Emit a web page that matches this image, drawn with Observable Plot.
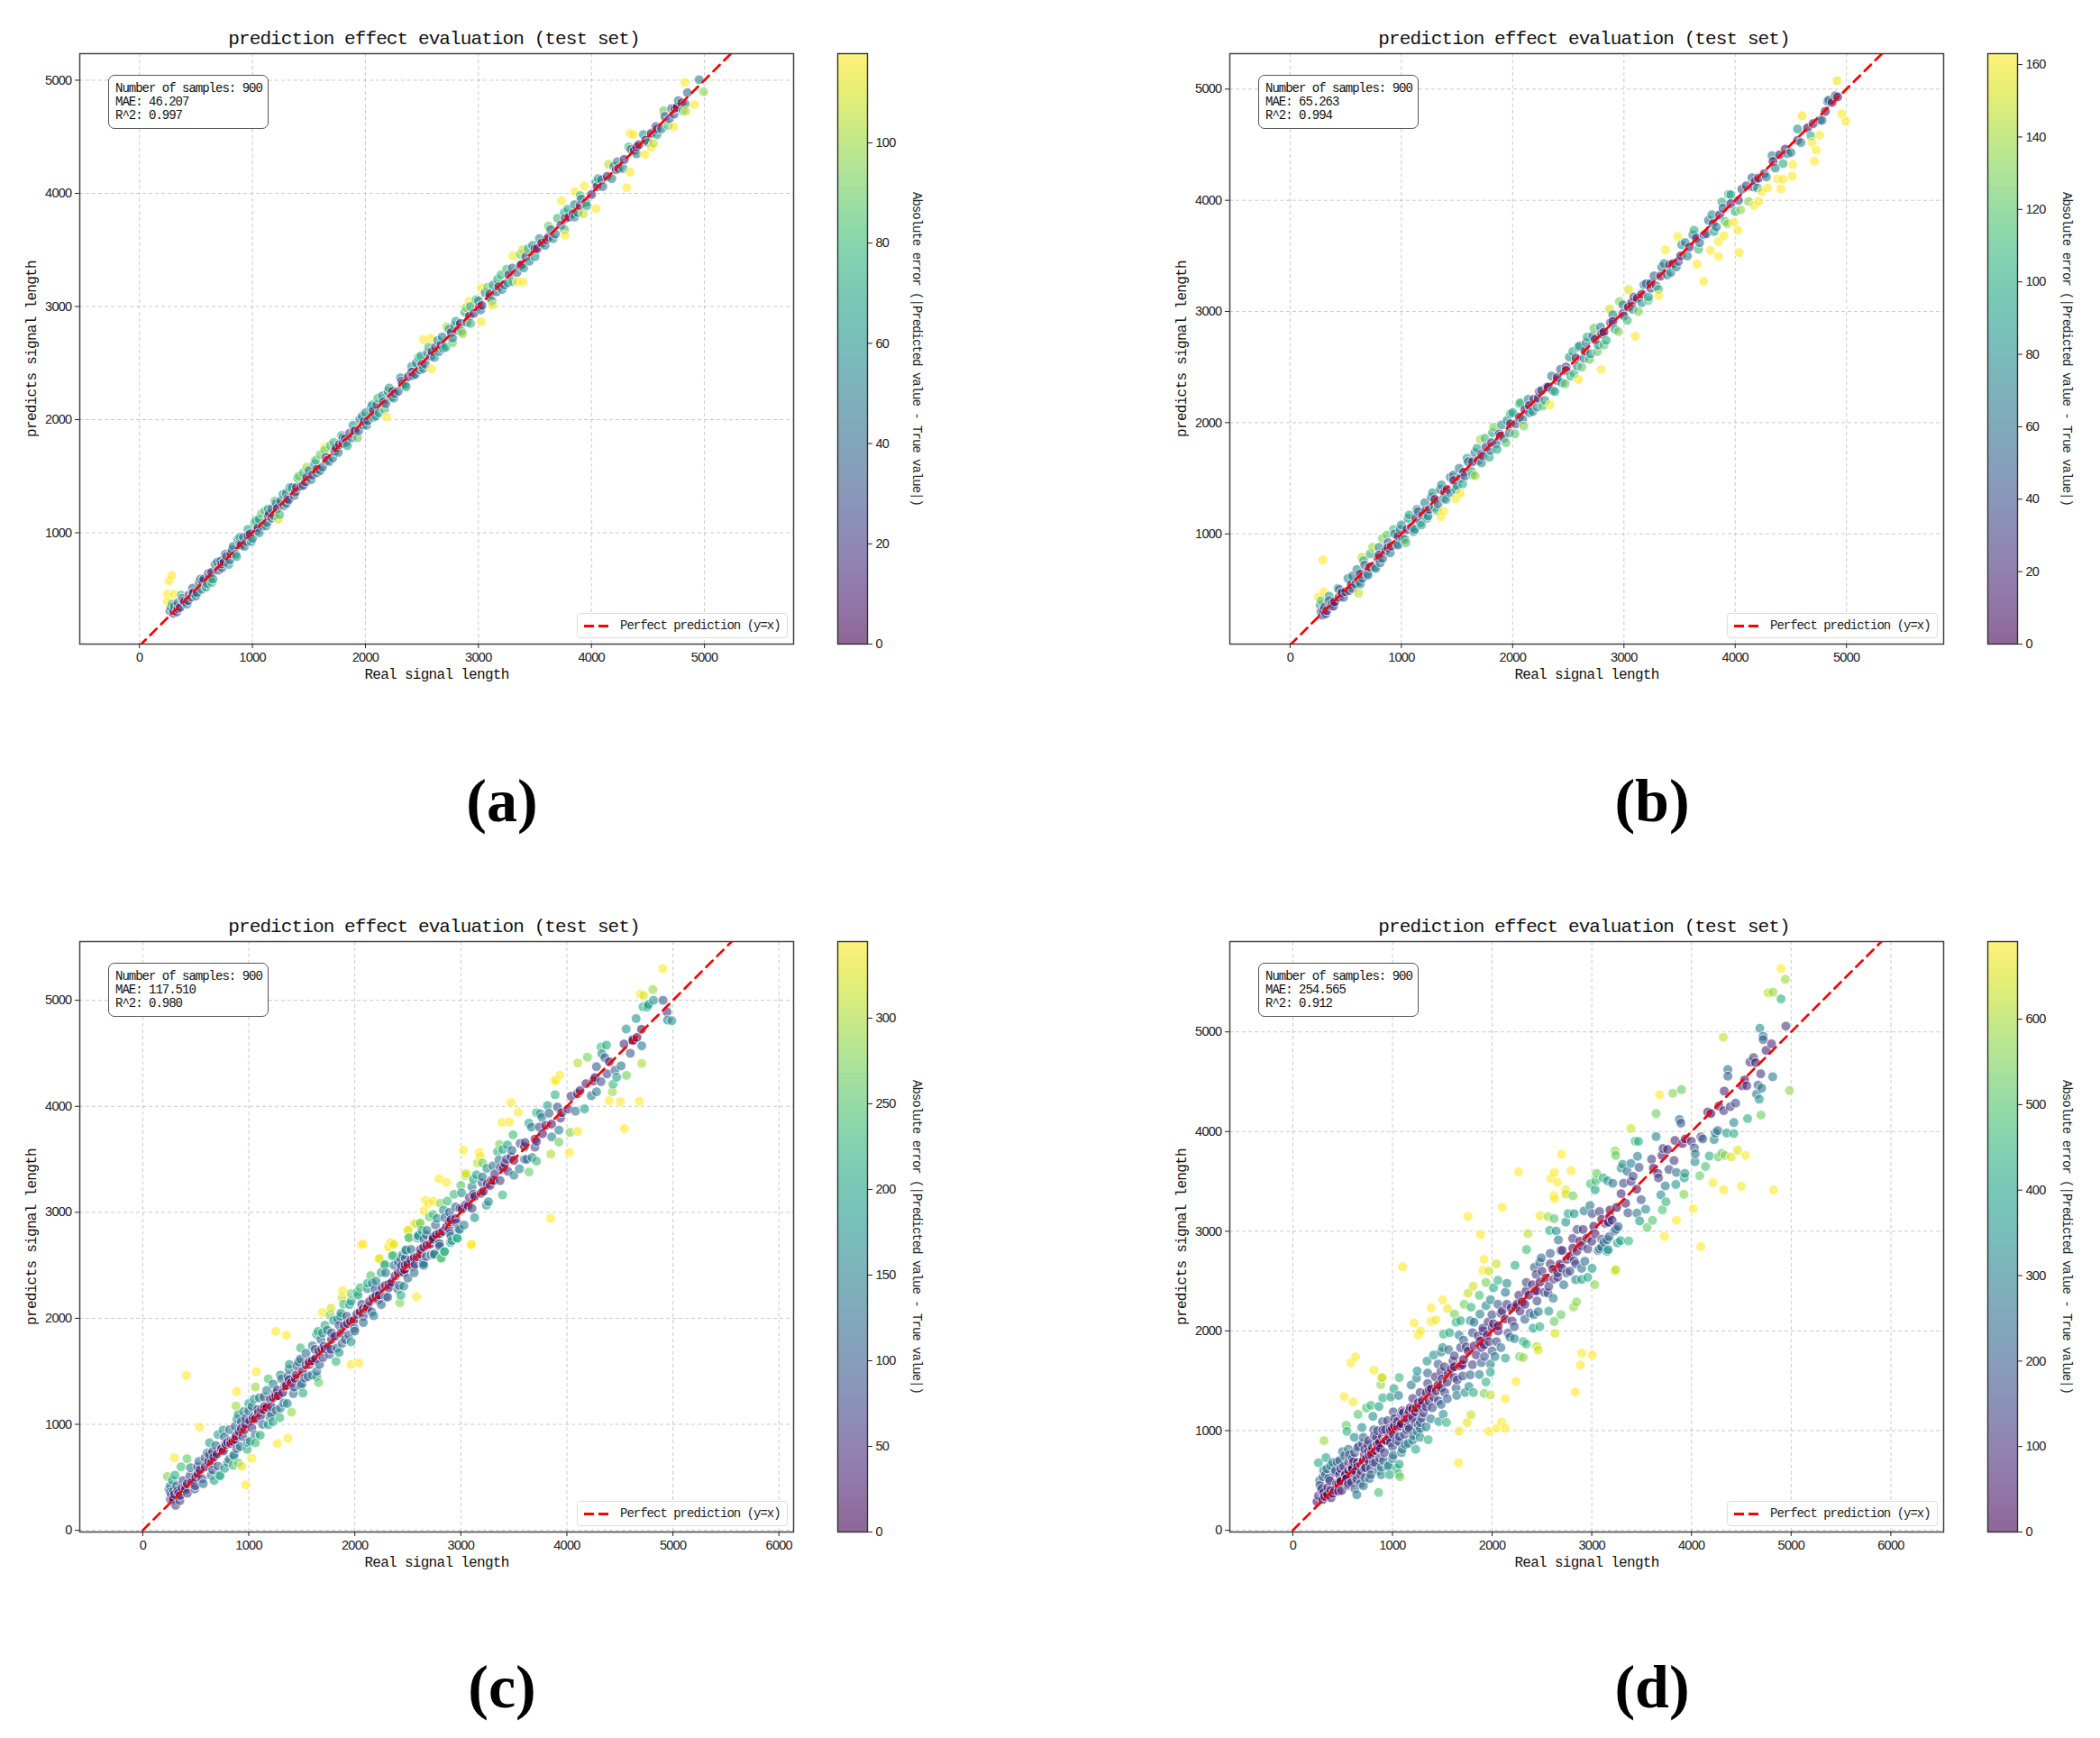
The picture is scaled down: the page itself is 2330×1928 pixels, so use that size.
<!DOCTYPE html>
<html><head><meta charset="utf-8">
<script src="https://cdn.jsdelivr.net/npm/d3@7"></script>
<script src="https://cdn.jsdelivr.net/npm/@observablehq/plot@0.6"></script>
<style>
html,body{margin:0;padding:0;background:#fff}
#page{position:relative;width:2330px;height:1928px;overflow:hidden}
.abs{position:absolute}
.abs svg{display:block;overflow:visible}
.stats{position:absolute;width:176px;height:58px;border:1.6px solid #555;border-radius:7px;background:#fff;font:14px/15px "Liberation Mono",monospace;letter-spacing:-1px;color:#111;padding:0;box-sizing:content-box}
.stats div{margin-left:7px;white-space:pre}
.stats div:first-child{margin-top:7px}
.legend{position:absolute;width:232px;height:26px;border:1.2px solid #ddd;border-radius:4px;background:rgba(255,255,255,.8);font:14px/26px "Liberation Mono",monospace;letter-spacing:-1px;color:#222;white-space:pre}
.legend i{position:absolute;left:7px;top:12px;width:27px;height:3px;background:linear-gradient(90deg,#f00 0 11px,transparent 11px 16px,#f00 16px 27px)}
.legend span{position:absolute;left:47px;top:0}
.letter{position:absolute;font:bold 68px "Liberation Serif",serif;color:#000;transform:translate(-50%,-50%);white-space:pre}
</style></head><body><div id="page"></div>
<script>
const titleText="prediction effect evaluation (test set)";
const xLabel="Real signal length";
const yLabel="predicts signal length";
const barLabel="Absolute error (|Predicted value - True value|)";
const legendText="Perfect prediction (y=x)";
const samplesText="Number of samples: 900";

const lettersList=["(a)","(b)","(c)","(d)"];
const maeList=["46.207","65.263","117.510","254.565"];
const r2List=["0.997","0.994","0.980","0.912"];

const xDomains=[[-528,5789],[-542,5873],[-594,6138],[-632,6530]];
const yDomains=[[16,5235],[9,5319],[-16,5554],[-17,5906]];
const xTicks=[[0,1000,2000,3000,4000,5000],[0,1000,2000,3000,4000,5000],[0,1000,2000,3000,4000,5000,6000],[0,1000,2000,3000,4000,5000,6000]];
const yTicks=[[1000,2000,3000,4000,5000],[1000,2000,3000,4000,5000],[0,1000,2000,3000,4000,5000],[0,1000,2000,3000,4000,5000]];
const errMax=[117.8,163,344.7,690.8];
const errTicks=[[0,20,40,60,80,100],[0,20,40,60,80,100,120,140,160],[0,50,100,150,200,250,300],[0,100,200,300,400,500,600]];

const pointsAExtra=[[290,370],[340,330],[370,450],[430,400],[470,510],[500,440],[540,590],[590,520],[610,640],[640,560],[690,740],[730,690],[760,810],[790,720],[830,880],[860,790],[890,960],[930,880],[960,1030],[990,920],[1030,1110],[1060,1000],[1080,1170],[1120,1060],[1140,1210],[1170,1130],[1200,1280],[1240,1160],[1270,1340],[1300,1260],[1330,1400],[1370,1330],[1410,1500],[1450,1420],[1480,1580],[1520,1470],[1560,1640],[1600,1550],[1640,1760],[1680,1630],[1720,1800],[1760,1710],[1790,1860],[1840,1770],[1890,1950],[1940,1900],[1970,2030],[2010,1950],[2060,2130],[2090,2030],[2110,2190],[2170,2090],[2210,2280],[2250,2190],[2310,2370],[2360,2290],[2410,2470],[2440,2400],[2470,2550],[2510,2450],[2560,2640],[2610,2550],[2640,2700],[2690,2630],[2720,2820],[2770,2680],[2800,2870],[2860,2760],[2890,2990],[2930,2850],[2980,3060],[3020,2970],[3080,3170],[3120,3050],[3170,3240],[3210,3150],[3250,3330],[3300,3220],[3370,3460],[3400,3340],[3440,3510],[3500,3440],[3540,3600],[3590,3540],[3620,3710],[3660,3600],[3700,3780],[3760,3680],[3790,3860],[3850,3790],[3900,3980],[3960,3890],[4060,4130],[4100,4060],[4180,4130],[4230,4280],[4280,4220],[4330,4410],[4400,4350],[4460,4520],[4500,4450],[4580,4520],[4640,4730],[4680,4600],[4730,4700],[4770,4820],[4810,4730]];

const pointsA=[[285,623],[261,574],[249,457],[308,457],[249,393],[2515,2709],[2580,2719],[2586,2449],[2189,2023],[3025,2865],[2918,3047],[3025,3164],[3126,3012],[3304,3448],[3393,3502],[3345,3218],[3393,3218],[3766,3629],[3737,3933],[3855,4016],[3938,4065],[3837,3820],[4039,3864],[3927,3820],[4342,4530],[4371,4520],[4312,4050],[4342,4188],[4152,4256],[4994,4898],[4953,5005],[4828,4980],[4911,4784],[4834,4726],[4727,4589],[4549,4442],[4472,4344],[4531,4407],
[280,340],[270,310],[300,290],[310,350],[330,300],[340,380],[360,340],[380,420],[400,390],[420,370],[440,450],[460,430],[480,470],[510,470],[530,560],[550,500],[570,590],[600,550],[620,600],[650,590],[670,720],[700,670],[720,750],[750,740],[770,790],[800,760],[820,850],[850,810],[870,940],[900,890],[920,960],[950,920],[980,990],[1000,950],[1020,1090],[1040,1020],[1060,1120],[1090,1060],[1110,1190],[1130,1090],[1150,1170],[1170,1210],[1190,1150],[1210,1260],[1230,1120],[1250,1280],[1280,1240],[1300,1350],[1320,1290],[1350,1400],[1380,1360],[1400,1480],[1430,1410],[1450,1530],[1470,1450],[1500,1550],[1530,1510],[1550,1610],[1570,1530],[1600,1690],[1620,1580],[1640,1730],[1660,1640],[1690,1770],[1710,1660],[1740,1750],[1770,1780],[1800,1840],[1800,1790],[1830,1800],[1860,1880],[1880,1840],[1910,1900],[1930,1840],[1950,2000],[1980,1950],[2000,2060],[2020,1990],[2050,2110],[2070,2020],[2100,2130],[2120,2060],[2150,2210],[2180,2140],[2200,2250],[2230,2200],[2260,2230],[2290,2250],[2320,2340],[2350,2310],[2380,2380],[2420,2390],[2450,2500],[2480,2440],[2490,2560],[2530,2490],[2550,2590],[2580,2560],[2620,2640],[2650,2600],[2680,2730],[2710,2640],[2740,2800],[2770,2720],[2790,2830],[2820,2790],[2850,2780],[2880,2950],[2900,2860],[2930,3000],[2960,2940],[3000,3050],[3030,3010],[3060,3120],[3100,3080],[3130,3190],[3160,3130],[3200,3280],[3230,3190],[3260,3210],[3300,3340],[3340,3300],[3380,3370],[3420,3440],[3450,3400],[3480,3540],[3520,3510],[3560,3560],[3600,3590],[3640,3680],[3680,3640],[3730,3720],[3760,3830],[3800,3790],[3850,3900],[3880,3830],[3910,3950],[3950,3920],[4000,3990],[4040,4100],[4090,4120],[4140,4150],[4200,4240],[4240,4220],[4290,4300],[4350,4390],[4380,4380],[4420,4430],[4480,4470],[4530,4530],[4570,4590],[4620,4570],[4650,4680],[4690,4660],[4710,4750],[4760,4760],[4800,4800],[4830,4790],[4850,4890],
[305,310],[390,400],[470,465],[560,570],[640,650],[730,725],[810,815],[890,900],[960,975],[1050,1045],[1140,1150],[1220,1215],[1310,1300],[1390,1400],[1480,1490],[1570,1560],[1650,1665],[1730,1720],[1820,1830],[1900,1905],[1990,1985],[2070,2080],[2160,2155],[2240,2250],[2330,2320],[2410,2420],[2500,2490],[2590,2600],[2670,2660],[2760,2770],[2840,2850],[2920,2915],[3010,3000],[3100,3110],[3180,3175],[3270,3280],[3370,3360],[3500,3510],[3620,3610],[3770,3780],[3900,3890],[4050,4060],[4220,4210],[4400,4410],[4580,4570],[4740,4750]];

const pointsBExtra=[[280,400],[320,280],[350,440],[390,350],[440,500],[480,430],[520,600],[560,510],[600,680],[630,550],[660,760],[700,630],[720,820],[770,690],[800,880],[830,780],[870,990],[900,830],[930,1040],[970,900],[1000,1080],[1030,950],[1070,1170],[1110,1020],[1140,1220],[1180,1080],[1210,1280],[1240,1160],[1280,1370],[1320,1210],[1360,1440],[1400,1310],[1440,1510],[1490,1400],[1520,1590],[1550,1450],[1590,1680],[1640,1530],[1680,1770],[1720,1640],[1750,1860],[1790,1690],[1820,1910],[1860,1760],[1900,1980],[1940,1820],[1980,2080],[2020,1900],[2070,2180],[2100,1970],[2140,2210],[2180,2100],[2240,2280],[2270,2150],[2350,2420],[2380,2280],[2430,2480],[2470,2350],[2510,2590],[2550,2440],[2590,2680],[2620,2500],[2660,2720],[2690,2570],[2720,2780],[2760,2640],[2790,2860],[2820,2700],[2900,2970],[2950,2820],[2990,3060],[3030,2920],[3090,3130],[3130,3000],[3180,3240],[3220,3100],[3270,3320],[3310,3200],[3360,3430],[3420,3350],[3470,3400],[3520,3600],[3570,3500],[3620,3690],[3670,3560],[3740,3700],[3790,3870],[3830,3760],[3890,3930],[3930,3790],[4000,3900],[4060,4100],[4120,3990],[4200,4110],[4280,4210],[4360,4290],[4430,4330],[4500,4430],[4590,4520],[4680,4580],[4760,4720]];

const pointsB=[[295,766],[253,432],[301,477],[614,467],[645,791],[1355,1154],[1380,1204],[1488,1314],[1530,1364],[1663,1523],[2337,2161],[2795,2479],[2590,2390],[3102,2778],[3042,3197],[2873,3022],[3373,3555],[3482,3675],[3657,3426],[3717,3272],[3777,3550],[3849,3496],[3849,3630],[3898,3680],[4036,3530],[4024,3730],[3988,3804],[4048,3914],[3940,4053],[3880,3984],[4410,4103],[4169,3954],[4241,4079],[4380,4193],[4512,4218],[4518,4322],[4711,4352],[4729,4452],[4759,4586],[4602,4761],[4916,5075],[4958,4776],[4994,4711],[4560,4641],[4331,4402],[4151,4203],[3313,3142],[3220,3130],[4430,4190],[4290,4110],[4210,3990],[4690,4520],[4780,4720],[4830,4890],[4900,4940],[4870,4880],
[270,360],[280,300],[290,270],[310,340],[330,310],[350,400],[370,350],[400,390],[430,510],[440,430],[470,470],[500,480],[530,490],[560,620],[590,550],[620,570],[650,600],[670,720],[690,640],[720,700],[740,880],[760,700],[790,780],[810,740],[830,960],[860,850],[880,920],[910,890],[940,1000],[960,910],[990,1040],[1010,960],[1040,920],[1060,1140],[1090,1060],[1120,1040],[1150,1200],[1170,1100],[1190,1170],[1230,1140],[1250,1220],[1270,1330],[1300,1240],[1330,1270],[1350,1400],[1380,1320],[1410,1400],[1440,1370],[1470,1530],[1500,1430],[1530,1500],[1570,1520],[1600,1650],[1630,1560],[1660,1730],[1690,1660],[1710,1850],[1730,1700],[1760,1780],[1800,1750],[1830,1960],[1850,1810],[1880,1900],[1920,1860],[1950,2020],[1970,1910],[2000,2090],[2030,1990],[2060,2170],[2090,2030],[2110,2120],[2150,2090],[2190,2210],[2220,2140],[2260,2290],[2290,2200],[2320,2320],[2360,2290],[2400,2380],[2440,2360],[2480,2500],[2520,2420],[2540,2640],[2580,2510],[2600,2690],[2640,2580],[2670,2770],[2700,2620],[2730,2850],[2770,2700],[2800,2800],[2840,2740],[2880,2900],[2920,2840],[2960,3090],[3000,2960],[3040,3040],[3080,3020],[3120,3120],[3160,3080],[3200,3250],[3240,3210],[3290,3230],[3340,3400],[3390,3330],[3440,3430],[3490,3450],[3550,3620],[3590,3580],[3630,3730],[3680,3620],[3720,3690],[3760,3820],[3810,3720],[3860,3870],[3910,3810],[3960,4050],[4030,4000],[4100,4130],[4160,4120],[4210,4200],[4260,4240],[4340,4350],[4400,4410],[4470,4420],[4560,4540],[4650,4650],[4810,4800],[4840,4900],
[300,310],[380,375],[460,470],[550,545],[630,640],[710,705],[800,810],[880,875],[970,980],[1050,1040],[1130,1140],[1220,1210],[1300,1310],[1390,1380],[1470,1480],[1560,1555],[1640,1650],[1720,1715],[1810,1820],[1890,1880],[1980,1990],[2060,2050],[2150,2155],[2230,2220],[2310,2320],[2400,2405],[2480,2470],[2570,2580],[2650,2645],[2740,2750],[2820,2815],[2900,2910],[2990,2980],[3070,3080],[3160,3155],[3240,3250],[3330,3320],[3410,3420],[3510,3500],[3650,3660],[3800,3790],[3960,3970],[4180,4170],[4450,4460],[4700,4690],[4920,4930]];

const pointsCExtra=[[260,420],[290,300],[320,420],[350,280],[380,470],[420,350],[450,590],[490,390],[530,650],[570,440],[610,730],[660,570],[690,800],[720,520],[770,880],[800,640],[820,950],[860,710],[890,1050],[920,790],[950,1120],[990,830],[1030,1170],[1060,900],[1100,1250],[1130,1000],[1170,1320],[1200,1070],[1230,1380],[1260,1130],[1310,1430],[1330,1200],[1380,1520],[1420,1290],[1470,1590],[1500,1380],[1540,1670],[1560,1450],[1600,1740],[1640,1500],[1680,1800],[1700,1630],[1740,1890],[1760,1660],[1800,1980],[1830,1720],[1870,2050],[1910,1800],[1950,2130],[2000,1880],[2030,2220],[2080,1960],[2120,2280],[2160,2060],[2200,2350],[2250,2130],[2290,2430],[2310,2200],[2370,2500],[2420,2310],[2450,2600],[2500,2380],[2530,2650],[2560,2430],[2600,2780],[2650,2500],[2680,2830],[2720,2600],[2760,2880],[2800,2680],[2850,2950],[2900,2800],[2950,3050],[3030,2880],[3080,3140],[3130,2950],[3200,3280],[3260,3100],[3320,3360],[3370,3300],[3430,3500],[3500,3350],[3560,3650],[3620,3500],
[260,360],[270,340],[300,340],[330,370],[370,400],[420,440],[500,500],[540,570],[620,650],[670,690],[740,760],[780,810],[830,820],[880,890],[930,960],[970,1000],[1040,1060],[1090,1110],[1150,1170],[1250,1290],[1320,1300],[1380,1420],[1440,1430],[1540,1560],[1600,1600],[1660,1690],[1720,1710],[1780,1800],[1900,1930],[1960,1970],[2020,2040],[2080,2090],[2140,2160],[2200,2210],[2260,2290],[2320,2320],[2380,2400],[2440,2450],[2500,2510],[2560,2570],[2620,2650],[2680,2690],[2740,2750],[2800,2800]];

const pointsC=[[4905,5299],[4811,5101],[4690,5059],[4723,5045],[4907,5000],[4817,5000],[4769,4960],[4718,4938],[4760,4938],[4944,4890],[4950,4814],[4989,4808],[4653,4828],[4559,4729],[4704,4726],[4539,4588],[4661,4650],[4624,4622],[4706,4571],[4598,4501],[4322,4560],[4373,4577],[4330,4495],[4358,4459],[4194,4464],[4103,4408],[4706,4405],[4279,4374],[4511,4382],[4454,4340],[4378,4306],[4562,4292],[4469,4275],[4322,4233],[4265,4270],[4180,4213],[4124,4148],[4039,4095],[4435,4208],[4429,4137],[4279,4137],[4231,4100],[3883,4247],[3897,4241],[3934,4295],[3889,4109],[4398,4052],[4506,4044],[4684,4047],[4542,3790],[4081,3954],[4166,3976],[4010,3974],[3911,3993],[3818,4007],[3473,4035],[3541,3945],[3388,3847],[3459,3852],[3642,3841],[3713,3940],[3747,3931],[3764,3897],[3832,3934],[3665,3804],[3741,3804],[3855,3832],[3940,3889],[3925,3776],[3770,3742],[3857,3711],[4030,3754],[4101,3762],[3925,3663],[3492,3731],[3605,3658],[3713,3669],[3699,3615],[3365,3641],[3439,3635],[3346,3573],[3397,3593],[3481,3584],[3849,3550],[4024,3565],[3600,3500],[3671,3517],[3713,3483],[3359,3494],[3473,3522],[3416,3460],[3374,3424],[3303,3438],[3246,3415],[3552,3410],[3642,3381],[3444,3387],[3204,3466],[3175,3565],[3025,3587],[3181,3528],[3156,3466],[3048,3367],[3042,3347],[3147,3353],[3204,3333],[3119,3311],[3289,3302],[2793,3316],[2864,3283],[3000,3254],[3105,3240],[3275,3254],[3212,3198],[3119,3170],[2935,3170],[3006,3184],[3393,3164],[3241,3068],[3846,2944],[2666,3113],[2694,3085],[2737,3105],[2807,3085],[2872,3105],[2737,2979],[2836,3020],[2892,3000],[2992,3037],[3105,3037],[3048,3071],[2654,3014],[2581,2893],[2618,2896],[2505,2831],[2864,2860],[2977,2846],[2907,2929],[2958,2901],[2703,2957],[2776,2943],[2595,2775],[2652,2747],[2737,2767],[2799,2705],[2907,2775],[2969,2755],[2915,2733],[2511,2761],[3099,2696],[2340,2713],[2369,2699],[2318,2682],[2077,2699],[2233,2564],[2284,2507],[2360,2592],[2482,2643],[2476,2564],[2618,2606],[2751,2606],[2816,2569],[2844,2628],[2674,2583],[2646,2521],[2567,2507],[2440,2493],[2411,2530],
[310,236],[261,293],[290,372],[247,386],[352,329],[403,386],[494,420],[233,508],[281,471],[304,520],[446,514],[361,599],[298,684],[417,676],[412,1460],[537,974],[673,471],[730,514],[645,520],[559,486],[517,599],[588,684],[630,713],[710,605],[815,670],[858,699],[900,636],[852,613],[772,585],[934,605],[971,429],[1028,679],[1269,818],[1369,869],[985,764],[1062,826],[1108,897],[1014,841],[630,826],[659,741],[710,903],[758,946],[787,812],[886,770],[829,841],[744,770],[872,855],[943,883],[872,983],[929,1025],[900,1091],[880,1173],[886,1309],[1071,1497],[1062,1352],[1184,1429],[1000,1196],[1051,1238],[1000,1125],[1085,1139],[971,1054],[1028,968],[1184,997],[1227,1025],[1292,1062],[1213,1096],[1363,1196],[1403,1116],[1298,1153],[1142,1258],[1213,1167],[1113,1082],[1142,1139],[1255,1267],[1298,1465],[1369,1451],[1204,1238],[1269,1323],[1426,1352],[1511,1295],[1488,1366],[1355,1366],[1383,1565],[1454,1551],[1488,1616],[1525,1437],[1596,1465],[1639,1451],[1659,1394],[1568,1565],[1624,1707],[1488,1721],[1667,1565],[1775,1707],[1710,1735],[1823,1593],[1852,1678],[1880,1764],[1965,1778],[1965,1565],[2039,1579],[1355,1840],[1255,1877],[1639,1849],[1695,1863],[1781,1863],[1718,1934],[1653,1877],[1837,1991],[1767,2033],[1695,2056],[1775,2096],[1866,2019],[1923,2019],[1994,1906],[1943,1843],[1852,1934],[1894,2133],[1965,2161],[1886,2261],[1880,2195],[2022,2246],[1965,2232],[2065,2133],[2178,2025],[2079,2019],[2121,2104],[2221,2175],[2292,2204],[2050,2289],[2150,2403],[2121,2332],[2192,2275],[2320,2289],[2405,2275],[2462,2303],[2434,2218],[2425,2147],[2582,2204],[2249,2431],[2278,2502],[2227,2559],[2164,2332],[2349,2587],[2482,2644],[2434,2559],[2476,2502],[2462,2431],[2547,2488],[2641,2516],[2746,2601],[2846,2630],[2812,2565],[2988,2837],[2902,2715],[2959,2758],[2888,2843],[2789,2701],[2590,2758],[2505,2758],[2675,2786],[2732,2743],[2633,2829],[2496,2829],[2613,2900],[2562,2894],[2320,2672],[2354,2695],[2335,2715],[2059,2695],[3096,2695],
[280,290],[340,350],[400,410],[460,450],[520,530],[590,600],[650,640],[700,720],[760,750],[800,830],[850,840],[910,930],[960,950],[1010,1030],[1060,1050],[1120,1140],[1170,1160],[1230,1250],[1280,1270],[1340,1360],[1400,1390],[1450,1470],[1510,1500],[1570,1590],[1630,1620],[1690,1710],[1750,1730],[1810,1830],[1870,1860],[1930,1950],[1990,1980],[2050,2060],[2110,2090],[2170,2190],[2230,2220],[2290,2310],[2350,2340],[2410,2430],[2470,2460],[2530,2550],[2590,2580],[2650,2670],[2710,2700],[2770,2790],[2830,2820],[2890,2910],[2950,2940],[3010,3030],[3070,3060],[3130,3150],[3190,3180],[3250,3270],[3310,3300],[3400,3420],[3500,3490],[3600,3620],[3700,3690],[3800,3820],[3950,3940],[4100,4120],[4250,4240],[4400,4420],[4620,4630]];

const pointsDExtra=[[270,500],[290,420],[310,380],[330,560],[350,430],[380,650],[400,370],[420,580],[440,470],[470,700],[490,400],[510,640],[540,520],[570,760],[590,480],[610,690],[630,590],[660,840],[680,470],[710,700],[730,630],[750,860],[770,520],[790,790],[810,680],[840,930],[860,600],[880,820],[910,700],[930,1010],[950,640],[980,880],[1000,720],[1020,1120],[1040,620],[1070,940],[1090,780],[1110,1180],[1130,860],[1160,1040],[1180,1230],[1210,950],[1230,1080],[1260,1280],[1280,1020],[1310,1180],[1340,1240],[1370,1410],[1400,1230],[1430,1540],[1460,1300],[1490,1430],[1520,1640],[1550,1320],[1590,1620],[1620,1750],[1650,1510],[1680,1650],[1740,1840],[1780,1560],[1840,1760],[1860,1950],[1920,1860],[1960,2090],[2000,1800],[2060,2000],[2100,2200],[2160,1980],[2200,2100],[2280,2200],[2340,2400],[2380,2180],[2450,2300],[2500,2600],[2560,2380],[2620,2520],[2700,2630],[2780,2600],[2850,2800],[2930,2700],[3000,2900],[3100,2920],
[320,340],[380,400],[460,470],[530,560],[590,620],[680,660],[740,720],[790,760],[850,860],[920,900],[1000,1020],[1080,1050],[1160,1190]];

const pointsD=[[4899,5636],[4941,5527],[4770,5392],[4818,5398],[4899,5331],[4947,5058],[4686,5037],[4719,4956],[4719,4923],[4320,4946],[4803,4880],[4749,4814],[4587,4697],[4623,4742],[4644,4691],[4365,4622],[4365,4556],[4695,4580],[4815,4550],[4983,4412],[4533,4517],[4509,4460],[4554,4460],[4668,4466],[4704,4436],[4653,4376],[4680,4325],[4329,4406],[3681,4370],[3813,4385],[3900,4421],[3645,4181],[4443,4286],[4389,4250],[4323,4211],[4275,4256],[4164,4196],[4194,4181],[4698,4166],[4563,4130],[4425,4091],[3879,4121],[3894,4085],[3393,4031],[4353,3986],[4425,3980],[4239,3986],[4263,4010],[4227,3920],[4095,3947],[4113,3926],[3999,3902],[3909,3881],[3834,3911],[3939,3926],[3645,3950],[3435,3905],[3468,3902],[3234,3806],[3240,3761],[3714,3830],[3759,3821],[3705,3761],[4029,3836],[4038,3776],[4035,3698],[4179,3755],[4269,3746],[4305,3782],[4335,3761],[4398,3746],[4464,3812],[4542,3761],[4140,3650],[4083,3557],[4215,3488],[4323,3416],[4500,3452],[4824,3416],[3459,3752],[3600,3722],[3825,3710],[3393,3680],[3309,3671],[3294,3635],[3354,3602],[3474,3641],[3618,3632],[3774,3620],[3849,3590],[3933,3581],[3927,3536],[3660,3581],[3669,3536],[3414,3551],[3393,3500],[3318,3482],[3210,3482],[3159,3506],[3114,3536],[3048,3581],[2988,3476],[3039,3506],[3033,3416],[3738,3455],[3843,3470],[3450,3422],[3294,3377],[3693,3365],[3924,3371],[3495,3317],[3744,3296],[3339,3281],[3708,3215],[4017,3227],[3540,3221],[3453,3182],[3363,3185],[3609,3110],[3849,3110],[3480,3104],[3555,3038],[3729,2948],[4095,2846],[3369,2903],[3288,2906],[3240,2615],[3165,2816],[3174,2945],[3264,3047],[3243,3020],[3204,3110],[3159,3086],[3099,2840],[3123,2891],[2697,3773],[2265,3596],[2625,3590],[2589,3530],[2655,3491],[2793,3608],[2739,3416],[2739,3374],[2811,3356],[2619,3359],[2628,3326],
[1758,3149],[2101,3239],[1884,2968],[1102,2643],[1920,2718],[1908,2607],[1968,2601],[2041,2673],[2230,2658],[2360,2977],[2345,2817],[2480,3157],[2561,3148],[2621,3127],[3233,2601],[1388,2230],[1505,2312],[1553,2224],[1216,2080],[1388,2095],[1433,2110],[1282,1999],[1258,1960],[581,1680],[629,1740],[816,1607],[891,1532],[897,1532],[882,1463],[515,1342],[605,1288],[313,900],[1662,677],[1668,996],[1966,993],[2044,1026],[2095,1087],[2131,1026],[1749,1081],[1788,1159],[2131,1321],[2239,1493],[2835,1388],[2886,1658],[2899,1779],[3004,1758],[861,379],[2631,1975],[2462,1809],[2447,1845],[2312,1734],[2276,1743],[1984,1358],[1920,1373],[2847,2291],[2817,2240],[2691,2164],[2622,2095],[3028,2465],
[243,288],[258,348],[288,399],[384,327],[459,393],[273,453],[372,498],[303,537],[483,489],[342,618],[258,678],[333,729],[444,687],[498,789],[558,813],[588,639],[648,678],[723,813],[768,678],[648,828],[642,357],[708,447],[624,417],[783,558],[642,513],[723,528],[528,558],[558,468],[888,558],[972,558],[1068,663],[1062,567],[1074,537],[963,648],[1008,753],[1098,813],[873,723],[888,633],[768,753],[843,858],[933,903],[858,828],[963,933],[1068,888],[1158,873],[1203,903],[1233,813],[1278,933],[1359,909],[1338,1038],[1248,993],[1143,1008],[1053,1038],[978,1023],[903,1008],[813,1008],[708,933],[618,933],[543,993],[537,1053],[693,1032],[804,1143],[654,1164],[738,1227],[783,1254],[864,1242],[903,1329],[984,1338],[1014,1422],[1062,1353],[1068,1533],[1188,1458],[1242,1527],[1248,1599],[1008,1188],[1092,1167],[1203,1218],[1203,1128],[1293,1128],[1383,1119],[1464,1092],[1542,1083],[1509,1164],[1413,1338],[1488,1263],[1368,1293],[1278,1383],[1203,1323],[1353,1473],[1458,1458],[1548,1488],[1638,1428],[1644,1353],[1728,1383],[1767,1443],[1812,1383],[1524,1383],[1617,1533],[1704,1548],[1488,1593],[1458,1668],[1353,1578],[1347,1698],[1413,1758],[1503,1833],[1563,1812],[1488,1788],[1608,1698],[1713,1713],[1683,1833],[1713,1908],[1803,1983],[1908,1998],[1968,1893],[1893,1833],[1923,1743],[1803,1662],[1893,1683],[1983,1668],[2028,1743],[2133,1728],[1983,1587],[1872,1563],[1938,1488],[2088,1833],[2178,1938],[2223,1923],[2043,1893],[2313,1893],[2343,1869],[1512,1968],[1572,1983],[1668,1959],[1623,2169],[1683,2103],[1782,2103],[1818,2088],[1878,2169],[1938,2253],[1983,2313],[2058,2268],[2088,2178],[1998,2163],[2013,2073],[1908,2028],[2223,2043],[2328,2118],[2418,2163],[2463,2193],[2568,2199],[2412,2028],[2478,2043],[2148,2268],[2238,2238],[2328,2268],[2268,2358],[2133,2388],[2148,2478],[2058,2508],[2013,2433],[1938,2487],[1872,2358],[1758,2379],[1809,2448],[1719,2268],[1788,2238],[1638,2088],[2343,2487],[2403,2463],[2523,2388],[2448,2403],[2568,2448],[2613,2328],[2718,2463],[2838,2514],[2898,2517],[2958,2538],[2658,2538],[2583,2673],[2493,2733],[2478,2688],[2424,2637],[2442,2568],[2583,2778],[2703,2808],[2778,2748],[2898,2853],[2958,2823],[3063,2808],[3153,2799],[3078,2823],[3258,2883],[3153,2913],[3003,2628],[2898,2628],[2838,2673],[2748,2583],[2658,2583],[2664,2913],[2643,3003],[2808,2928],[2853,3018],[2913,3018],[3033,2973],[2688,2808],[2823,2703],[2922,3204],[3003,3177],[3078,3198],[3183,3213],[2982,3258],[2763,3177],[2823,3177],[2739,3093],[2577,3009],[3138,3078],[3228,3003],[3168,3093],
[310,600],[400,680],[480,620],[520,750],[600,720],[620,560],[680,560],[720,620],[780,620],[830,680],[850,1000],[920,780],[1000,840],[1040,900],[1120,960],[1170,1020],[1260,1060],[700,870],[620,780],[560,680],[430,600],[360,520],[470,560],[550,450],[690,590],[760,900],[820,950],[900,1090],[950,1100],[1020,1050],[1100,1200],[1150,1120],[1230,1190],[1300,1300],[1280,1080],
[300,310],[350,360],[420,400],[480,500],[540,520],[560,600],[600,620],[650,640],[700,690],[720,760],[760,790],[800,830],[830,800],[870,880],[900,940],[940,900],[980,1000],[1010,960],[1050,1090],[1090,1070],[1130,1120],[1170,1200],[1200,1150],[1240,1230],[1290,1250],[1340,1380],[1390,1420],[1440,1400],[1500,1520],[1560,1570],[1620,1640],[1700,1660],[1760,1800],[1820,1850],[1880,1900],[1950,1960],[2000,2030],[2060,2050],[2130,2120],[2190,2230],[2250,2270],[2300,2290],[2370,2360],[2430,2400],[2480,2490],[2540,2530],[2610,2620],[2680,2670],[2750,2720],[2810,2830],[2880,2900],[2950,2930],[3020,3050],[3100,3120],[3180,3150],[3250,3240]];

const pointSets=[pointsAExtra.concat(pointsA),pointsBExtra.concat(pointsB),pointsCExtra.concat(pointsC),pointsDExtra.concat(pointsD)];
const identityLine=[[0,0],[8000,8000]];

const page=document.getElementById("page");
const mono="Liberation Mono";
const sans="Liberation Sans";
const spacingBySize={"21":"-0.9px","16":"-0.7px","14":"-1px","14.5":"-0.7px"};
const offsetsX=[0,1276,0,1276], offsetsY=[0,0,985,985];
const frameW=792, frameH=655, mL=88, mT=59;

function place(svg,left,top,w){
  const d=document.createElement("div");d.className="abs";d.style.left=left+"px";d.style.top=top+"px";d.style.width=w+"px";
  d.appendChild(svg);page.appendChild(d);
  svg.querySelectorAll("text").forEach(t=>{
    const s=spacingBySize[String(parseFloat(getComputedStyle(t).fontSize))];
    if(s) t.style.letterSpacing=s;
  });
}

pointSets.forEach((pts,i)=>{
  const ox=offsetsX[i], oy=offsetsY[i];
  const colorScale={type:"linear",scheme:"viridis",domain:[0,errMax[i]],clamp:true};
  const main=Plot.plot({
    width:mL+frameW+20,height:mT+frameH+50,
    marginLeft:mL,marginRight:20,marginTop:mT,marginBottom:50,
    x:{domain:xDomains[i]},y:{domain:yDomains[i]},color:colorScale,
    style:{background:"transparent",overflow:"visible"},
    marks:[
      Plot.gridX(xTicks[i],{stroke:"#b8b8b8",strokeOpacity:.75,strokeDasharray:"4,3",strokeWidth:1}),
      Plot.gridY(yTicks[i],{stroke:"#b8b8b8",strokeOpacity:.75,strokeDasharray:"4,3",strokeWidth:1}),
      Plot.dot(pts,{x:d=>d[0],y:d=>d[1],fill:d=>Math.abs(d[1]-d[0]),r:5.4,fillOpacity:.6,stroke:"white",strokeOpacity:.75,strokeWidth:1,clip:true,sort:{channel:"x"}}),
      Plot.line(identityLine,{x:d=>d[0],y:d=>d[1],stroke:"#f00",strokeWidth:2.7,strokeDasharray:"10,7",clip:true}),
      Plot.frame({stroke:"#444",strokeWidth:1.5}),
      Plot.axisX(xTicks[i],{tickSize:5,tickPadding:4,tickFormat:"d",label:null,fontSize:14.5,fontFamily:sans,fill:"#222",stroke:"#222"}),
      Plot.axisY(yTicks[i],{tickSize:5,tickPadding:4,tickFormat:"d",label:null,fontSize:14.5,fontFamily:sans,fill:"#222",stroke:"#222"}),
      Plot.text([titleText],{text:d=>d,frameAnchor:"top",dx:-3,dy:-25,fontSize:21,fontFamily:mono,fill:"#111"}),
      Plot.text([xLabel],{text:d=>d,frameAnchor:"bottom",dy:38,fontSize:16,fontFamily:mono,fill:"#111"}),
      Plot.text([yLabel],{text:d=>d,frameAnchor:"left",textAnchor:"middle",dx:-54,rotate:-90,fontSize:16,fontFamily:mono,fill:"#111"})
    ]
  });
  place(main,ox,oy,mL+frameW+20);

  const step=errMax[i]/256;
  const levels=d3.range(256).map(k=>k*step);
  const bar=Plot.plot({
    width:33+95,height:mT+frameH+50,
    marginLeft:0,marginRight:95,marginTop:mT,marginBottom:50,
    x:{domain:[0,1],axis:null},y:{domain:[0,errMax[i]]},color:colorScale,
    style:{background:"transparent",overflow:"visible"},
    marks:[
      Plot.rect(levels,{x1:0,x2:1,y1:d=>d,y2:d=>d+step,fill:d=>d,fillOpacity:.6,shapeRendering:"crispEdges"}),
      Plot.frame({stroke:"#333",strokeWidth:1.4}),
      Plot.axisY(errTicks[i],{anchor:"right",tickSize:5,tickPadding:4,tickFormat:"d",label:null,fontSize:14.5,fontFamily:sans,fill:"#222",stroke:"#222"}),
      Plot.text([barLabel],{text:d=>d,frameAnchor:"right",textAnchor:"middle",dx:55,rotate:90,fontSize:14,fontFamily:mono,fill:"#222"})
    ]
  });
  place(bar,ox+929,oy,33+95);

  const stats=document.createElement("div");stats.className="stats";
  stats.style.left=(ox+120)+"px";stats.style.top=(oy+83)+"px";
  [samplesText,"MAE: "+maeList[i],"R^2: "+r2List[i]].forEach(s=>{const l=document.createElement("div");l.textContent=s;stats.appendChild(l);});
  page.appendChild(stats);

  const leg=document.createElement("div");leg.className="legend";
  leg.style.left=(ox+640)+"px";leg.style.top=(oy+680)+"px";
  leg.innerHTML="<i></i><span></span>";leg.querySelector("span").textContent=legendText;
  page.appendChild(leg);

  const let_=document.createElement("div");let_.className="letter";
  let_.style.left=(ox+557)+"px";let_.style.top=(i<2?888:1871)+"px";let_.textContent=lettersList[i];
  page.appendChild(let_);
});
</script></body></html>
